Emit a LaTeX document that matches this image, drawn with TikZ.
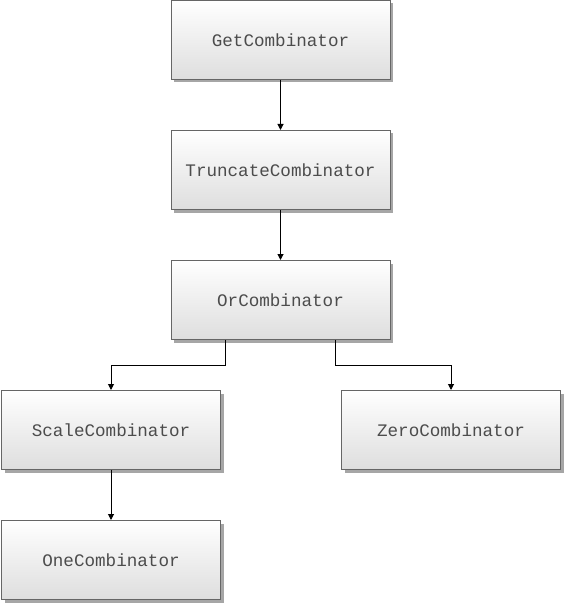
\documentclass[tikz,border=0pt]{standalone}
\usepackage{fontspec}
\setmonofont{Liberation Mono}
\usetikzlibrary{positioning}
\usetikzlibrary{shadows}
\usetikzlibrary{arrows.meta}

\begin{document}
\begin{tikzpicture}
		[
		x=1pt, y=1pt,
		font=\fontsize{17.6}{20}\ttfamily,
		node distance=50pt
		]
		
		% Box and connector styles
		\tikzstyle{class box}=[rectangle,draw=black!60,line width=1pt,minimum width=219pt,minimum height=79pt,
			top color=white,bottom color=black!13,text=black!70,
			drop shadow={shadow xshift=3pt,shadow yshift=-3pt,fill=black!35,opacity=1}];
		\tikzstyle{link}=[draw,line width=1pt,-{Triangle[length=6pt,width=6pt]}];
		
		\useasboundingbox (0,0) rectangle (563,-604);
		
		% The boxes
		\node(get)[class box] at (280.5,-40){GetCombinator};
		\node(truncate)[class box,below=of get]{TruncateCombinator};
		\node(or)[class box,below=of truncate]{OrCombinator};
		\node(scale)[class box,below=of or,xshift=-169.5pt]{ScaleCombinator};
		\node(zero)[class box,below=of or,xshift=170.5pt]{ZeroCombinator};
		\node(one)[class box,below=of scale]{OneCombinator};
		
		% Connectors
		\draw[link](get)--(truncate);
		\draw[link](truncate)--(or);
		\draw[link]([xshift=-55pt]or.south)--++(0,-25)-|(scale.north);
		\draw[link]([xshift=55pt]or.south)--++(0,-25)-|(zero.north);
		\draw[link](scale)--(one);
		
		\end{tikzpicture}
\end{document}
